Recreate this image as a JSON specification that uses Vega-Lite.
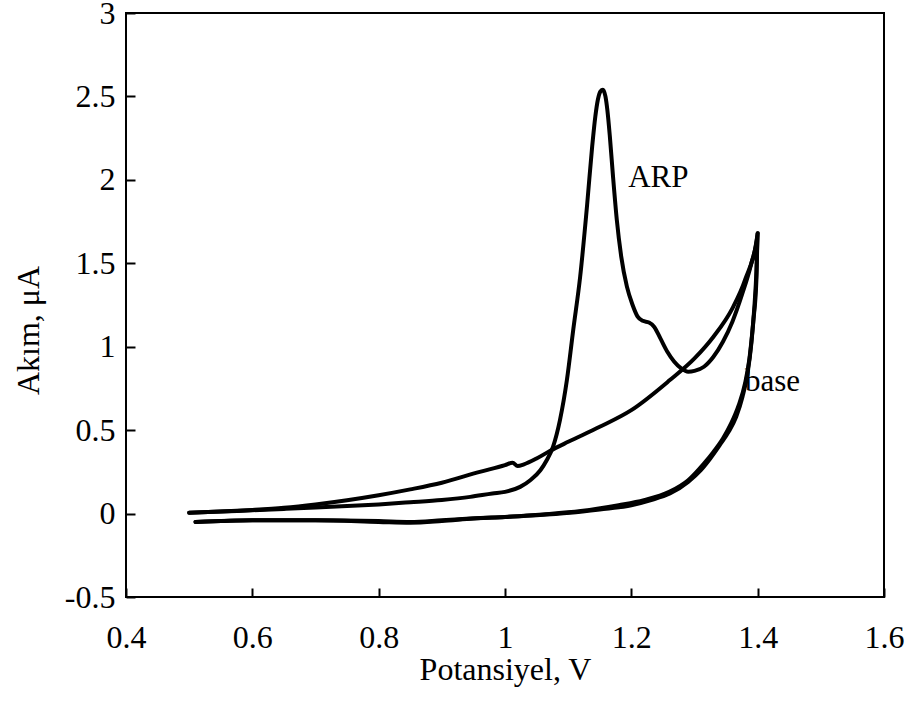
{
  "$schema": "https://vega.github.io/schema/vega-lite/v6.json",
  "width": 758,
  "height": 584,
  "autosize": {"type": "none"},
  "padding": {"left": 126, "top": 13, "right": 24, "bottom": 105},
  "background": "white",
  "config": {
    "view": {"stroke": "black", "strokeWidth": 2},
    "font": "Liberation Serif",
    "axis": {
      "domain": false, "tickColor": "black", "tickWidth": 2, "tickSize": 9, "offset": -9,
      "grid": false, "labelFont": "Liberation Serif", "titleFont": "Liberation Serif",
      "labelFontSize": 32, "titleFontSize": 32, "labelColor": "black", "titleColor": "black",
      "titleFontWeight": "normal", "labelFlush": false, "labelOverlap": false,
      "labelExpr": "replace(datum.label, '\u2212', '-')"
    }
  },
  "datasets": {
    "curves": [
      {"s": "ARP", "k": 1, "v": 0.5, "i": 0.005},
      {"s": "ARP", "k": 2, "v": 0.55, "i": 0.012},
      {"s": "ARP", "k": 3, "v": 0.6, "i": 0.02},
      {"s": "ARP", "k": 4, "v": 0.65, "i": 0.028},
      {"s": "ARP", "k": 5, "v": 0.7, "i": 0.036},
      {"s": "ARP", "k": 6, "v": 0.75, "i": 0.045},
      {"s": "ARP", "k": 7, "v": 0.8, "i": 0.055},
      {"s": "ARP", "k": 8, "v": 0.85, "i": 0.068},
      {"s": "ARP", "k": 9, "v": 0.9, "i": 0.082},
      {"s": "ARP", "k": 10, "v": 0.945, "i": 0.1},
      {"s": "ARP", "k": 11, "v": 0.98, "i": 0.12},
      {"s": "ARP", "k": 12, "v": 1.0, "i": 0.13},
      {"s": "ARP", "k": 13, "v": 1.024, "i": 0.16},
      {"s": "ARP", "k": 14, "v": 1.04, "i": 0.2},
      {"s": "ARP", "k": 15, "v": 1.056, "i": 0.26},
      {"s": "ARP", "k": 16, "v": 1.066, "i": 0.32},
      {"s": "ARP", "k": 17, "v": 1.076, "i": 0.4},
      {"s": "ARP", "k": 18, "v": 1.087, "i": 0.56},
      {"s": "ARP", "k": 19, "v": 1.098, "i": 0.8},
      {"s": "ARP", "k": 20, "v": 1.108, "i": 1.1},
      {"s": "ARP", "k": 21, "v": 1.119, "i": 1.42},
      {"s": "ARP", "k": 22, "v": 1.13, "i": 1.85},
      {"s": "ARP", "k": 23, "v": 1.138, "i": 2.2},
      {"s": "ARP", "k": 24, "v": 1.143, "i": 2.38},
      {"s": "ARP", "k": 25, "v": 1.147, "i": 2.48},
      {"s": "ARP", "k": 26, "v": 1.151, "i": 2.53},
      {"s": "ARP", "k": 27, "v": 1.155, "i": 2.54},
      {"s": "ARP", "k": 28, "v": 1.159, "i": 2.5},
      {"s": "ARP", "k": 29, "v": 1.162, "i": 2.42},
      {"s": "ARP", "k": 30, "v": 1.166, "i": 2.26},
      {"s": "ARP", "k": 31, "v": 1.171, "i": 2.02},
      {"s": "ARP", "k": 32, "v": 1.177, "i": 1.76},
      {"s": "ARP", "k": 33, "v": 1.184, "i": 1.54},
      {"s": "ARP", "k": 34, "v": 1.193, "i": 1.36},
      {"s": "ARP", "k": 35, "v": 1.202, "i": 1.25},
      {"s": "ARP", "k": 36, "v": 1.21, "i": 1.18},
      {"s": "ARP", "k": 37, "v": 1.218, "i": 1.155},
      {"s": "ARP", "k": 38, "v": 1.228, "i": 1.145},
      {"s": "ARP", "k": 39, "v": 1.236, "i": 1.12},
      {"s": "ARP", "k": 40, "v": 1.246, "i": 1.05},
      {"s": "ARP", "k": 41, "v": 1.257, "i": 0.97},
      {"s": "ARP", "k": 42, "v": 1.268, "i": 0.91},
      {"s": "ARP", "k": 43, "v": 1.279, "i": 0.87},
      {"s": "ARP", "k": 44, "v": 1.29, "i": 0.85},
      {"s": "ARP", "k": 45, "v": 1.3, "i": 0.855},
      {"s": "ARP", "k": 46, "v": 1.315, "i": 0.88},
      {"s": "ARP", "k": 47, "v": 1.33, "i": 0.94},
      {"s": "ARP", "k": 48, "v": 1.345, "i": 1.03},
      {"s": "ARP", "k": 49, "v": 1.36, "i": 1.15},
      {"s": "ARP", "k": 50, "v": 1.375, "i": 1.31},
      {"s": "ARP", "k": 51, "v": 1.39, "i": 1.5},
      {"s": "ARP", "k": 52, "v": 1.4, "i": 1.68},
      {"s": "ARP", "k": 53, "v": 1.398, "i": 1.45},
      {"s": "ARP", "k": 54, "v": 1.395, "i": 1.25},
      {"s": "ARP", "k": 55, "v": 1.39, "i": 1.02},
      {"s": "ARP", "k": 56, "v": 1.384, "i": 0.84},
      {"s": "ARP", "k": 57, "v": 1.376, "i": 0.7},
      {"s": "ARP", "k": 58, "v": 1.366, "i": 0.58},
      {"s": "ARP", "k": 59, "v": 1.354, "i": 0.49},
      {"s": "ARP", "k": 60, "v": 1.34, "i": 0.41},
      {"s": "ARP", "k": 61, "v": 1.325, "i": 0.33},
      {"s": "ARP", "k": 62, "v": 1.31, "i": 0.26},
      {"s": "ARP", "k": 63, "v": 1.29, "i": 0.19},
      {"s": "ARP", "k": 64, "v": 1.261, "i": 0.12},
      {"s": "ARP", "k": 65, "v": 1.23, "i": 0.08},
      {"s": "ARP", "k": 66, "v": 1.2, "i": 0.05},
      {"s": "ARP", "k": 67, "v": 1.15, "i": 0.025},
      {"s": "ARP", "k": 68, "v": 1.103, "i": 0.005},
      {"s": "ARP", "k": 69, "v": 1.05, "i": -0.01},
      {"s": "ARP", "k": 70, "v": 1.0, "i": -0.02},
      {"s": "ARP", "k": 71, "v": 0.945, "i": -0.03},
      {"s": "ARP", "k": 72, "v": 0.9, "i": -0.04},
      {"s": "ARP", "k": 73, "v": 0.85, "i": -0.05},
      {"s": "ARP", "k": 74, "v": 0.8, "i": -0.045},
      {"s": "ARP", "k": 75, "v": 0.7, "i": -0.04},
      {"s": "ARP", "k": 76, "v": 0.6, "i": -0.04},
      {"s": "ARP", "k": 77, "v": 0.55, "i": -0.045},
      {"s": "ARP", "k": 78, "v": 0.51, "i": -0.05},
      {"s": "base", "k": 1, "v": 0.5, "i": 0.005},
      {"s": "base", "k": 2, "v": 0.55, "i": 0.012},
      {"s": "base", "k": 3, "v": 0.6, "i": 0.022},
      {"s": "base", "k": 4, "v": 0.65, "i": 0.035},
      {"s": "base", "k": 5, "v": 0.7, "i": 0.055},
      {"s": "base", "k": 6, "v": 0.75, "i": 0.08},
      {"s": "base", "k": 7, "v": 0.8, "i": 0.11},
      {"s": "base", "k": 8, "v": 0.85, "i": 0.145},
      {"s": "base", "k": 9, "v": 0.9, "i": 0.185},
      {"s": "base", "k": 10, "v": 0.96, "i": 0.25},
      {"s": "base", "k": 11, "v": 1.0, "i": 0.29},
      {"s": "base", "k": 12, "v": 1.012, "i": 0.305},
      {"s": "base", "k": 13, "v": 1.02, "i": 0.285},
      {"s": "base", "k": 14, "v": 1.03, "i": 0.295},
      {"s": "base", "k": 15, "v": 1.05, "i": 0.33},
      {"s": "base", "k": 16, "v": 1.071, "i": 0.375},
      {"s": "base", "k": 17, "v": 1.1, "i": 0.43},
      {"s": "base", "k": 18, "v": 1.15, "i": 0.52},
      {"s": "base", "k": 19, "v": 1.2, "i": 0.62},
      {"s": "base", "k": 20, "v": 1.261, "i": 0.8},
      {"s": "base", "k": 21, "v": 1.3, "i": 0.93},
      {"s": "base", "k": 22, "v": 1.33, "i": 1.06},
      {"s": "base", "k": 23, "v": 1.36, "i": 1.23},
      {"s": "base", "k": 24, "v": 1.38, "i": 1.4},
      {"s": "base", "k": 25, "v": 1.4, "i": 1.68},
      {"s": "base", "k": 26, "v": 1.398, "i": 1.4},
      {"s": "base", "k": 27, "v": 1.393, "i": 1.15},
      {"s": "base", "k": 28, "v": 1.387, "i": 0.93},
      {"s": "base", "k": 29, "v": 1.38, "i": 0.78},
      {"s": "base", "k": 30, "v": 1.37, "i": 0.65},
      {"s": "base", "k": 31, "v": 1.358, "i": 0.54},
      {"s": "base", "k": 32, "v": 1.345, "i": 0.45},
      {"s": "base", "k": 33, "v": 1.33, "i": 0.37},
      {"s": "base", "k": 34, "v": 1.315, "i": 0.3},
      {"s": "base", "k": 35, "v": 1.29, "i": 0.2},
      {"s": "base", "k": 36, "v": 1.26, "i": 0.13},
      {"s": "base", "k": 37, "v": 1.22, "i": 0.08},
      {"s": "base", "k": 38, "v": 1.18, "i": 0.05},
      {"s": "base", "k": 39, "v": 1.12, "i": 0.015},
      {"s": "base", "k": 40, "v": 1.06, "i": -0.005},
      {"s": "base", "k": 41, "v": 1.0, "i": -0.02},
      {"s": "base", "k": 42, "v": 0.95, "i": -0.03},
      {"s": "base", "k": 43, "v": 0.9, "i": -0.045},
      {"s": "base", "k": 44, "v": 0.85, "i": -0.055},
      {"s": "base", "k": 45, "v": 0.8, "i": -0.05},
      {"s": "base", "k": 46, "v": 0.7, "i": -0.04},
      {"s": "base", "k": 47, "v": 0.6, "i": -0.04},
      {"s": "base", "k": 48, "v": 0.51, "i": -0.05}
    ],
    "labels": [
      {"t": "ARP", "v": 1.195, "i": 2.01},
      {"t": "base", "v": 1.38, "i": 0.79}
    ]
  },
  "layer": [
    {
      "data": {"name": "curves"},
      "mark": {"type": "line", "color": "black", "strokeWidth": 4, "strokeJoin": "round", "strokeCap": "round", "clip": true, "interpolate": "monotone"},
      "encoding": {
        "x": {"field": "v", "type": "quantitative", "scale": {"domain": [0.4, 1.6], "nice": false, "zero": false},
              "axis": {"values": [0.4, 0.6, 0.8, 1.0, 1.2, 1.4, 1.6], "format": "~g", "title": "Potansiyel, V", "labelPadding": 25, "titlePadding": 1}},
        "y": {"field": "i", "type": "quantitative", "scale": {"domain": [-0.5, 3], "nice": false, "zero": false},
              "axis": {"values": [-0.5, 0, 0.5, 1, 1.5, 2, 2.5, 3], "format": "~g", "title": "Akım, μA", "labelPadding": 11, "titlePadding": 19, "titleY": 317}},
        "detail": {"field": "s"},
        "order": {"field": "k", "type": "quantitative"}
      }
    },
    {
      "data": {"name": "labels"},
      "mark": {"type": "text", "align": "left", "baseline": "middle", "fontSize": 31, "font": "Liberation Serif", "color": "black"},
      "encoding": {
        "x": {"field": "v", "type": "quantitative"},
        "y": {"field": "i", "type": "quantitative"},
        "text": {"field": "t"}
      }
    }
  ]
}
